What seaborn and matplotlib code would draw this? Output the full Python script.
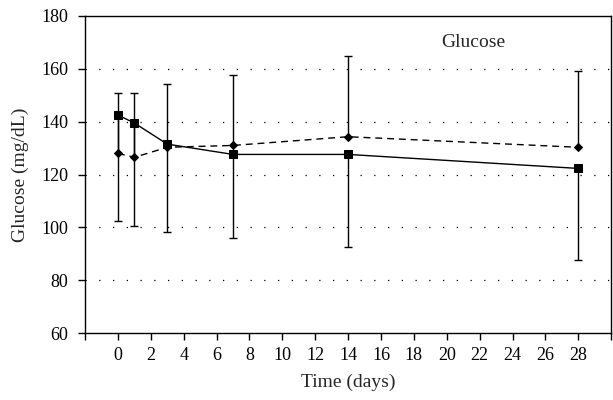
import numpy as np
import pandas as pd
import matplotlib
matplotlib.use("Agg")
import matplotlib.pyplot as plt
import seaborn as sns

days = [0, 1, 3, 7, 14, 28]
glucose_solid = [142.5, 139.5, 131.5, 127.6, 127.6, 122.3]
glucose_dashed = [128.0, 126.5, 130.3, 131.0, 134.3, 130.3]
# one-sided error bars: lower from the solid series, upper from the dashed series
solid_err_low = [40.2, 38.9, 33.4, 31.6, 35.0, 34.7]
dashed_err_up = [22.7, 24.2, 24.0, 26.7, 30.5, 28.8]

x_ticks = list(range(-2, 31, 2))
x_labels = [str(t) if 0 <= t <= 28 else "" for t in x_ticks]
y_ticks = [60, 80, 100, 120, 140, 160, 180]

sns.set_style("ticks")
plt.rcParams["font.family"] = ["Liberation Serif", "DejaVu Serif"]

fig = plt.figure(figsize=(6.13, 4.0), dpi=100)
ax = fig.add_axes([0.1387, 0.1675, 0.8583, 0.7925])

df_solid = pd.DataFrame({"day": days, "glucose": glucose_solid})
df_dashed = pd.DataFrame({"day": days, "glucose": glucose_dashed})

# grid
for v in y_ticks[1:-1]:
    ax.axhline(v, color="black", lw=0.9, ls=(0, (1, 10)), zorder=0)

# error bars
eb1 = ax.errorbar(days, glucose_solid, yerr=[solid_err_low, np.zeros(len(days))],
                  fmt="none", ecolor="black", elinewidth=1.0, capsize=3, capthick=1.0, zorder=2)
eb1[1][1].set_visible(False)
eb2 = ax.errorbar(days, glucose_dashed, yerr=[np.zeros(len(days)), dashed_err_up],
                  fmt="none", ecolor="black", elinewidth=1.0, capsize=3, capthick=1.0, zorder=2)
eb2[1][0].set_visible(False)

sns.lineplot(data=df_solid, x="day", y="glucose", ax=ax, color="black", lw=1.0,
             marker="s", markersize=5.5, markeredgecolor="black", zorder=3)
sns.lineplot(data=df_dashed, x="day", y="glucose", ax=ax, color="black", lw=1.0,
             linestyle=(0, (5, 3.5)), marker="D", markersize=4.2,
             markeredgecolor="black", zorder=3)

ax.set_xlim(-2, 30)
ax.set_ylim(60, 180)
ax.set_xticks(x_ticks)
ax.set_xticklabels(x_labels)
ax.set_yticks(y_ticks)
ax.tick_params(axis="both", direction="out", length=5, width=1.0, labelsize=13,
               color="black", labelcolor="black", pad=5)
ax.tick_params(axis="y", pad=7)
for s in ax.spines.values():
    s.set_visible(True)
    s.set_color("black")
    s.set_linewidth(1.0)

ax.set_xlabel("Time (days)", fontsize=14, labelpad=7)
ax.set_ylabel("Glucose (mg/dL)", fontsize=14, labelpad=9)
ax.text(0.738, 0.915, "Glucose", transform=ax.transAxes, fontsize=14, ha="center", va="center")

fig.savefig("out.png", dpi=100)
